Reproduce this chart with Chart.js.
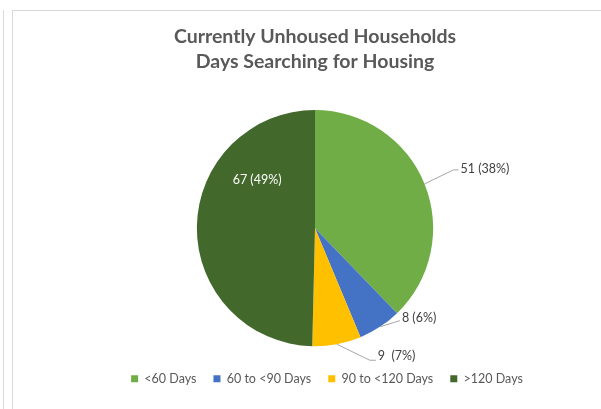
<!DOCTYPE html>
<html>
<head>
<meta charset="utf-8">
<script src="https://cdn.jsdelivr.net/npm/chart.js@4.4.1/dist/chart.umd.min.js"></script>
<style>
  html, body { margin: 0; padding: 0; background: #fff; }
  #wrap { position: relative; width: 601px; height: 409px; overflow: hidden; }
  .edge { position: absolute; background: #d9d9d9; }
  #chart { position: absolute; left: 0; top: 0; }
</style>
</head>
<body>
<div id="wrap">
  <div class="edge" style="left:3px; top:10px; width:1px; height:399px;"></div>
  <div class="edge" style="left:12px; top:10px; width:1px; height:399px;"></div>
  <div class="edge" style="left:12px; top:10px; width:589px; height:1px;"></div>
  <canvas id="chart" width="601" height="409"></canvas>
</div>
<script>
var categories = ['<60 Days', '60 to <90 Days', '90 to <120 Days', '>120 Days'];
var households = [51, 8, 9, 67];
var percents = [38, 6, 7, 49];
var sliceColors = ['#70ad47', '#4472c4', '#ffc000', '#43682b'];

// how each data label sits relative to its slice
var labelPlacement = [
  { inside: false, elbow: [29, -14], text: [7, -1] },
  { inside: false, elbow: [19, -6], text: [3, -3] },
  { inside: false, elbow: [33, 16], text: [8, -4] },
  { inside: true, at: [-0.49, -0.41] }
];

function labelText(i) {
  var gap = i === 2 ? '  ' : ' ';
  return households[i] + gap + '(' + percents[i] + '%)';
}

var pieLabels = {
  id: 'pieLabels',
  afterLayout: function(chart) {
    // Excel's legend sits a little right of the pie centre
    chart.legend.left += 12;
    chart.legend.right += 12;
  },
  afterDatasetsDraw: function(chart) {
    var ctx = chart.ctx;
    var meta = chart.getDatasetMeta(0);
    ctx.save();
    ctx.font = '12.5px Lato';
    ctx.textBaseline = 'middle';
    meta.data.forEach(function(arc, i) {
      var p = arc.getProps(['x', 'y', 'startAngle', 'endAngle', 'outerRadius'], true);
      var place = labelPlacement[i];
      if (place.inside) {
        ctx.fillStyle = '#ffffff';
        ctx.textAlign = 'center';
        ctx.fillText(labelText(i), p.x + place.at[0] * p.outerRadius, p.y + place.at[1] * p.outerRadius);
        return;
      }
      var mid = (p.startAngle + p.endAngle) / 2;
      var ex = p.x + Math.cos(mid) * p.outerRadius;
      var ey = p.y + Math.sin(mid) * p.outerRadius;
      var bx = ex + place.elbow[0];
      var by = ey + place.elbow[1];
      ctx.strokeStyle = '#a6a6a6';
      ctx.lineWidth = 1;
      ctx.beginPath();
      ctx.moveTo(ex, ey);
      ctx.lineTo(bx, by);
      ctx.lineTo(bx + place.text[0] - 2, by);
      ctx.stroke();
      ctx.fillStyle = '#404040';
      ctx.textAlign = 'left';
      ctx.fillText(labelText(i), bx + place.text[0], by + place.text[1]);
    });
    ctx.restore();
  }
};

new Chart(document.getElementById('chart'), {
  type: 'pie',
  data: {
    labels: categories,
    datasets: [{
      data: households,
      backgroundColor: sliceColors,
      borderWidth: 0,
      hoverOffset: 0
    }]
  },
  options: {
    responsive: false,
    animation: false,
    layout: { padding: { left: 29, right: 0, top: 0, bottom: 14 } },
    plugins: {
      title: {
        display: true,
        text: ['Currently Unhoused Households', 'Days Searching for Housing'],
        color: '#595959',
        font: { family: 'Lato', size: 19.5, weight: 'bold', lineHeight: '25px' },
        padding: { top: 24, bottom: 36 }
      },
      legend: {
        position: 'bottom',
        title: { display: true, text: ' ', font: { size: 1 }, padding: { top: 0, bottom: 8 } },
        labels: {
          color: '#595959',
          font: { family: 'Lato', size: 12.5, lineHeight: '15px' },
          boxWidth: 7,
          boxHeight: 7,
          padding: 17
        }
      },
      tooltip: { enabled: false }
    }
  },
  plugins: [pieLabels]
});
</script>
</body>
</html>
